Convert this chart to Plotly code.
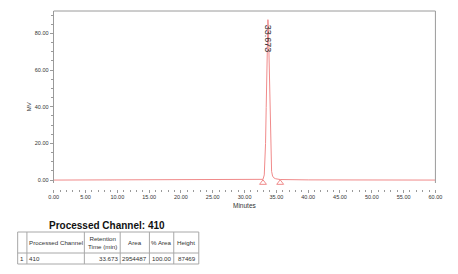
import plotly.graph_objects as go

# ---- chromatogram data (minutes, mV) ----
time_min = [0.0, 10.0, 20.0, 30.0, 32.9, 33.1, 33.2, 33.3, 33.4, 33.5, 33.6, 33.673,
            33.75, 33.85, 33.95, 34.05, 34.15, 34.25, 34.4, 34.6, 34.9, 35.3, 35.6,
            40.0, 50.0, 60.0]
signal_mv = [0.0, 0.0, 0.0, 0.0, 0.4, 2.8, 8.2, 20.0, 39.5, 63.5, 82.5, 87.47,
             82.8, 65.0, 41.5, 22.5, 10.5, 4.8, 2.2, 1.2, 0.7, 0.4, 0.3,
             0.1, 0.0, 0.0]

peak_rt = 33.673
peak_height_mv = 87.469
peak_label = "33.673"
marker_times = [32.9, 35.6]
marker_values = [-1.5, -1.5]

# ---- table data ----
table_title = "Processed Channel: 410"
table_headers = ["", "Processed Channel", "Retention<br>Time (min)", "Area", "% Area", "Height"]
table_row = ["1", "410", "33.673", "2954487", "100.00", "87469"]

W, H = 458, 274
def px(x):
    return x / W
def py(y):
    return 1 - y / H

RED = "#f08a8a"
AXC = "#9a9a9a"
TXT = "#333333"
FONT = "Liberation Sans, Arial, sans-serif"

fig = go.Figure()
fig.add_trace(go.Scatter(x=time_min, y=signal_mv, mode="lines",
                         line=dict(color=RED, width=1), hoverinfo="skip",
                         showlegend=False))
fig.add_trace(go.Scatter(x=marker_times, y=marker_values, mode="markers",
                         marker=dict(symbol="triangle-up-open", size=6,
                                     color=RED, line=dict(color=RED, width=1)),
                         cliponaxis=False, showlegend=False, hoverinfo="skip"))

annotations = []
# peak label
annotations.append(dict(x=peak_rt, y=peak_height_mv, xref="x", yref="y",
                        text=peak_label, textangle=90, showarrow=False,
                        xanchor="center", yanchor="top", yshift=-3,
                        font=dict(family=FONT, size=9, color=TXT)))
# axis titles
annotations.append(dict(x=px(25), y=py(107), xref="paper", yref="paper",
                        xanchor="center", yanchor="middle",
                        text="MV", textangle=-90, showarrow=False,
                        font=dict(family=FONT, size=6, color=TXT)))
annotations.append(dict(x=px(246), y=py(205), xref="paper", yref="paper",
                        xanchor="center", yanchor="middle",
                        text="Minutes", showarrow=False,
                        font=dict(family=FONT, size=6.5, color=TXT)))
# table title
annotations.append(dict(x=px(105), y=py(225), xref="paper", yref="paper",
                        xanchor="center", yanchor="middle",
                        text="<b>" + table_title + "</b>", showarrow=False,
                        font=dict(family=FONT, size=10, color="#111111")))

shapes = []
# plot frame (top and right)
shapes.append(dict(type="line", xref="x domain", yref="y domain", x0=0, x1=1, y0=1, y1=1,
                   line=dict(color=AXC, width=1)))
shapes.append(dict(type="line", xref="x domain", yref="y domain", x0=1, x1=1, y0=0, y1=1,
                   line=dict(color=AXC, width=1)))

# table grid
col_edges = [13, 22.5, 81.5, 118.3, 148.3, 173.3, 199]
row_edges = [232, 253, 264]
TL = "#a8a8a8"
for xe in col_edges:
    shapes.append(dict(type="line", xref="paper", yref="paper",
                       x0=px(xe), x1=px(xe), y0=py(row_edges[0]), y1=py(row_edges[-1]),
                       line=dict(color=TL, width=1)))
for ye in row_edges:
    shapes.append(dict(type="line", xref="paper", yref="paper",
                       x0=px(col_edges[0]), x1=px(col_edges[-1]), y0=py(ye), y1=py(ye),
                       line=dict(color=TL, width=1)))

hy = (row_edges[0] + row_edges[1]) / 2
dy = (row_edges[1] + row_edges[2]) / 2
for i, h in enumerate(table_headers):
    if not h:
        continue
    cx = (col_edges[i] + col_edges[i + 1]) / 2
    annotations.append(dict(x=px(cx), y=py(hy), xref="paper", yref="paper",
                            xanchor="center", yanchor="middle",
                            text=h, showarrow=False, align="center",
                            font=dict(family=FONT, size=6.2, color=TXT)))
for i, v in enumerate(table_row):
    if i == 0:
        x, xa = (col_edges[0] + col_edges[1]) / 2, "center"
    elif i == 1:
        x, xa = col_edges[1] + 0.5, "left"
    else:
        x, xa = col_edges[i + 1] - 0.5, "right"
    annotations.append(dict(x=px(x), y=py(dy), xref="paper", yref="paper",
                            xanchor=xa, yanchor="middle", text=v, showarrow=False,
                            font=dict(family=FONT, size=6.2, color=TXT)))

fig.update_layout(
    width=W, height=H, margin=dict(l=0, r=0, t=0, b=0),
    paper_bgcolor="white", plot_bgcolor="white",
    font=dict(family=FONT, size=5.5, color=TXT),
    showlegend=False,
    xaxis=dict(domain=[px(50), px(442)], range=[0, 60], anchor="free",
               position=py(188.5), dtick=5, tick0=0, tickformat=".2f",
               ticks="outside", ticklen=3, tickcolor=AXC, tickwidth=1,
               minor=dict(dtick=1, ticks="outside", ticklen=2, tickcolor=AXC),
               showgrid=False, zeroline=False, showline=False,
               tickfont=dict(family=FONT, size=5.5, color=TXT)),
    yaxis=dict(domain=[py(183), py(11)], range=[-1.6, 92.2], dtick=20, tick0=0,
               tickformat=".2f", ticks="outside", ticklen=3, tickcolor=AXC,
               minor=dict(dtick=5, ticks="outside", ticklen=2, tickcolor=AXC),
               showgrid=False, zeroline=False, showline=True, linecolor=AXC,
               linewidth=1, tickfont=dict(family=FONT, size=5.5, color=TXT)),
    annotations=annotations, shapes=shapes,
)

fig.write_html("out.html")
